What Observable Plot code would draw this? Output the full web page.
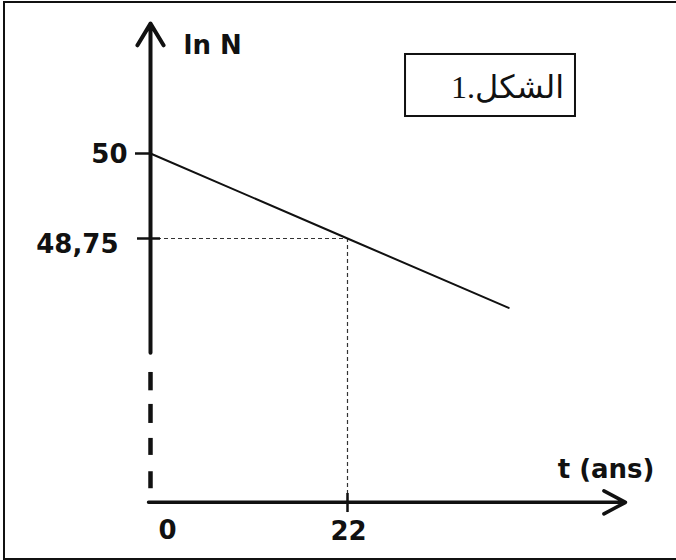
<!DOCTYPE html>
<html><head><meta charset="utf-8">
<script src="https://cdn.jsdelivr.net/npm/d3@7"></script>
<script src="https://cdn.jsdelivr.net/npm/@observablehq/plot@0.6"></script>
<style>
html,body{margin:0;padding:0;background:#fff;overflow:hidden}
#wrap{position:relative;width:676px;height:560px;overflow:hidden}
#border{position:absolute;left:3px;top:1px;width:720px;height:555px;border:2.5px solid #111;border-right:none;pointer-events:none}
svg{overflow:visible}
</style></head><body>
<div id="wrap"><div id="chart"></div><div id="border"></div></div>
<script>
// ---- data ----
const tValues = [0, 22, 40];
const lnNValues = [50, 48.75, 47.73];
const yTickValues = [50, 48.75];
const yTickLabels = ["50", "48,75"];
const xTickValues = [0, 22];
const xTickLabels = ["0", "22"];
const yAxisTitle = "ln N";
const xAxisTitle = "t (ans)";
const figureTitle = "الشكل.1";

// ---- layout (data units) ----
const tAxisStart = -0.22, tArrowTip = 53.05;
const lnBase = 44.87, lnSolidFrom = 47.07, lnArrowTip = 51.91;
// broken part of the vertical axis: dash segments [top, bottom]
const axisDashTop = [46.78, 46.31, 45.81, 45.32];
const axisDashBottom = [46.51, 46.03, 45.56, 45.07];
const yTickLeft = [-1.675, -1.45], yTickRight = [0, 1.12];
const xTickTop = 45.0, xTickBottom = 44.72;
const boxT = [28.48, 47.46], boxLn = [51.456, 50.544];

const points = tValues.map((t, i) => ({t, v: lnNValues[i]}));
const ink = "#111";
const lab = {fontFamily: "DejaVu Sans", fontWeight: "bold", fontSize: 26, fill: ink};

const plot = Plot.plot({
  width: 676, height: 560,
  marginLeft: 150, marginRight: 329, marginTop: 153, marginBottom: 322,
  x: {domain: [0, 22], axis: null},
  y: {domain: [48.75, 50], axis: null},
  marks: [
    // dotted guides
    Plot.ruleY([lnNValues[1]], {x1: () => 0, x2: () => tValues[1], y: d => d, stroke: "#333", strokeWidth: 1.2, strokeDasharray: "4 3"}),
    Plot.ruleX([tValues[1]], {x: d => d, y1: () => lnNValues[1], y2: () => lnBase, stroke: "#333", strokeWidth: 1.2, strokeDasharray: "4 3"}),
    // main line
    Plot.line(points, {x: "t", y: "v", stroke: ink, strokeWidth: 2}),
    // y axis (solid part with arrow)
    Plot.arrow([0], {x1: () => 0, y1: () => lnSolidFrom, x2: () => 0, y2: () => lnArrowTip, stroke: ink, strokeWidth: 4, headLength: 9.5, headAngle: 62}),
    // y axis dashed part
    Plot.ruleX(axisDashTop, {x: () => 0, y1: d => d, y2: (d, i) => axisDashBottom[i], stroke: ink, strokeWidth: 4.5}),
    // x axis with arrow
    Plot.arrow([0], {x1: () => tAxisStart, y1: () => lnBase, x2: () => tArrowTip, y2: () => lnBase, stroke: ink, strokeWidth: 3.5, headLength: 10.5, headAngle: 56}),
    // ticks
    Plot.ruleY(yTickValues, {y: d => d, x1: (d, i) => yTickLeft[i], x2: (d, i) => yTickRight[i], stroke: ink, strokeWidth: 2.5}),
    Plot.ruleX([xTickValues[1]], {x: d => d, y1: () => xTickTop, y2: () => xTickBottom, stroke: ink, strokeWidth: 2.5}),
    // tick labels
    Plot.text([0], {x: () => 0, y: () => yTickValues[0], text: () => yTickLabels[0], textAnchor: "end", dx: -23, dy: 1.5, ...lab}),
    Plot.text([1], {x: () => 0, y: () => yTickValues[1], text: () => yTickLabels[1], textAnchor: "end", dx: -32, dy: 6, ...lab}),
    Plot.text([0], {x: () => xTickValues[0], y: () => lnBase, text: () => xTickLabels[0], textAnchor: "middle", dx: 17, dy: 28, ...lab}),
    Plot.text([1], {x: () => xTickValues[1], y: () => lnBase, text: () => xTickLabels[1], textAnchor: "middle", dx: 1, dy: 29, ...lab}),
    // axis titles
    Plot.text([0], {x: () => 0, y: () => lnArrowTip, text: () => yAxisTitle, textAnchor: "start", dx: 33, dy: 22, ...lab}),
    Plot.text([0], {x: () => tArrowTip, y: () => lnBase, text: () => xAxisTitle, textAnchor: "middle", dx: -19.5, dy: -33, ...lab}),
    // figure label box
    Plot.rect([0], {x1: () => boxT[0], x2: () => boxT[1], y1: () => boxLn[0], y2: () => boxLn[1], fill: "none", stroke: ink, strokeWidth: 2}),
    Plot.text([0], {x: () => (boxT[0] + boxT[1]) / 2, y: () => (boxLn[0] + boxLn[1]) / 2, text: () => figureTitle, textAnchor: "middle", dx: 17, dy: 2, fontFamily: "Liberation Serif, DejaVu Serif, DejaVu Sans", fontSize: 32, fill: ink})
  ]
});
document.getElementById("chart").appendChild(plot);
</script>
</body></html>
